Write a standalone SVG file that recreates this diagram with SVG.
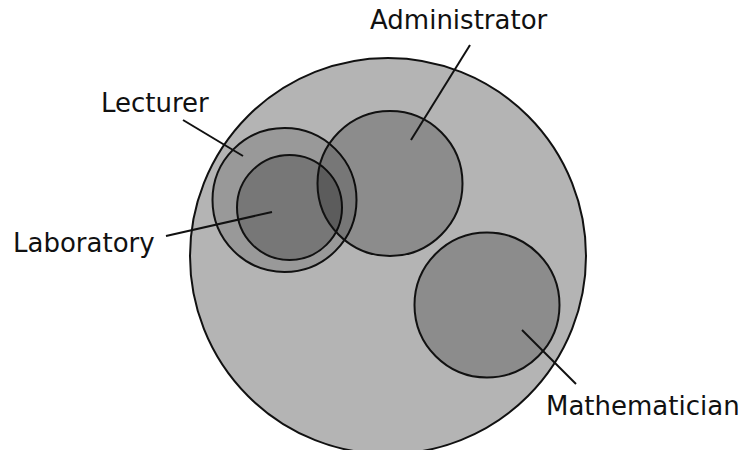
<svg xmlns="http://www.w3.org/2000/svg" width="744" height="450" viewBox="0 0 744 450">
<style>
.c{stroke:#111;stroke-width:2}
.s{fill:#000;fill-opacity:0.22}
.l{stroke:#111;stroke-width:2;fill:none}
.t{font-family:"DejaVu Sans",sans-serif;font-size:26px;fill:#111}
</style>
<rect width="744" height="450" fill="#fff"/>
<g id="universe"><circle class="c" cx="388" cy="256" r="198" style="fill:#b4b4b4"/></g>
<g id="lecturer"><circle class="c" cx="284.5" cy="200" r="72" style="fill:#000;fill-opacity:0.15"/></g>
<g id="laboratory"><circle class="c s" cx="289.5" cy="207.5" r="52.5"/></g>
<g id="administrator"><circle class="c s" cx="390" cy="183.5" r="72.5"/></g>
<g id="mathematician"><circle class="c s" cx="487" cy="305" r="72.5"/></g>
<g id="connectors">
<line class="l" x1="470" y1="45" x2="411" y2="140"/>
<line class="l" x1="183" y1="120" x2="243" y2="156"/>
<line class="l" x1="166" y1="236" x2="272" y2="212"/>
<line class="l" x1="522" y1="330" x2="576" y2="384"/>
</g>
<g id="labels">
<text class="t" x="370" y="29">Administrator</text>
<text class="t" x="101" y="112">Lecturer</text>
<text class="t" x="13" y="252">Laboratory</text>
<text class="t" x="546" y="415">Mathematician</text>
</g>
</svg>
